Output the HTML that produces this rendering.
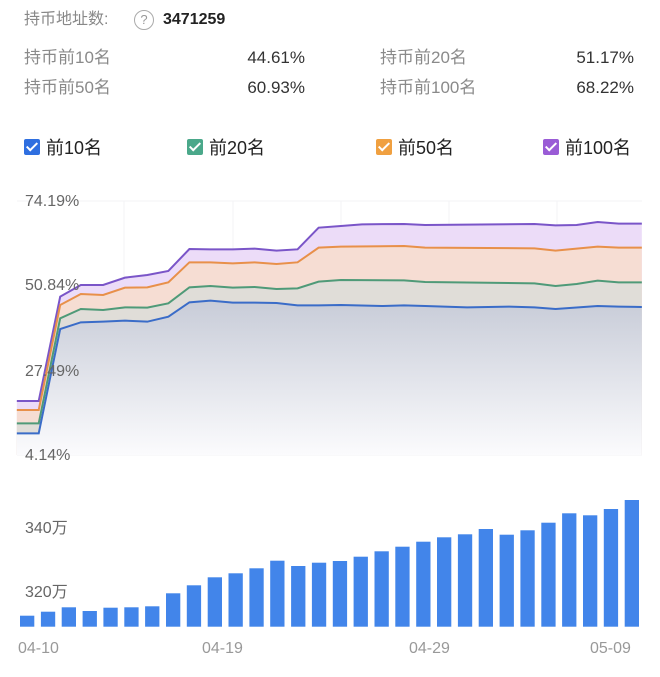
<!DOCTYPE html>
<html><head><meta charset="utf-8"><style>
body{margin:0;width:660px;height:677px;background:#fff;overflow:hidden;position:relative;font-family:"Liberation Sans","Noto Sans CJK SC",sans-serif;}
.t{position:absolute;white-space:nowrap;line-height:20px}
.g{color:#8a8a8a;font-size:17px}
.cb{position:absolute;width:16px;height:16px;border-radius:2px;top:139px}
.cb:after{content:"";position:absolute;left:5px;top:1px;width:4px;height:9px;border:solid #fff;border-width:0 2px 2px 0;transform:rotate(45deg)}
.lg{position:absolute;top:137px;font-size:18px;color:#222;line-height:22px}
</style></head><body>
<div class="t" style="left:24px;top:10px;font-size:16px;color:#888">持币地址数:</div>
<div class="t" style="left:134px;top:10px;width:18px;height:18px;border:1.5px solid #aaa;border-radius:50%;font-size:13px;color:#999;text-align:center;line-height:18px">?</div>
<div class="t" style="left:163px;top:10px;font-size:16px;font-weight:bold;color:#222">3471259</div>
<div class="t g" style="left:24px;top:48px">持币前10名</div>
<div class="t g" style="left:200px;top:48px;width:105px;text-align:right;color:#333">44.61%</div>
<div class="t g" style="left:380px;top:48px">持币前20名</div>
<div class="t g" style="left:530px;top:48px;width:104px;text-align:right;color:#333">51.17%</div>
<div class="t g" style="left:24px;top:78px">持币前50名</div>
<div class="t g" style="left:200px;top:78px;width:105px;text-align:right;color:#333">60.93%</div>
<div class="t g" style="left:380px;top:78px">持币前100名</div>
<div class="t g" style="left:530px;top:78px;width:104px;text-align:right;color:#333">68.22%</div>
<div class="cb" style="left:24px;background:#2f6fe0"></div><div class="lg" style="left:46px">前10名</div>
<div class="cb" style="left:187px;background:#4aa88a"></div><div class="lg" style="left:209px">前20名</div>
<div class="cb" style="left:376px;background:#f0a040"></div><div class="lg" style="left:398px">前50名</div>
<div class="cb" style="left:543px;background:#9a5cd6"></div><div class="lg" style="left:565px">前100名</div>

<svg width="660" height="290" style="position:absolute;left:0;top:180px">
<defs>
<linearGradient id="bg" x1="0" y1="0" x2="0" y2="1"><stop offset="0" stop-color="#c8ccd8"/><stop offset="1" stop-color="#fbfbfd"/></linearGradient>
</defs>
<g fill="none" stroke="#f3f3f5" stroke-width="1">
<line x1="17" y1="21" x2="642" y2="21"/><line x1="17" y1="275" x2="642" y2="275"/>
<line x1="124" y1="21" x2="124" y2="275"/><line x1="233" y1="21" x2="233" y2="275"/><line x1="341" y1="21" x2="341" y2="275"/><line x1="449" y1="21" x2="449" y2="275"/><line x1="557" y1="21" x2="557" y2="275"/>
</g>
<g transform="scale(0.42088,0.33333)">
<path fill="#ecdcf8" d="M40,663 92,663 143,350 192,315 245,315 297,293 350,285 400,273 450,207 500,208 553,208 605,206 657,212 707,208 757,143 810,138 860,133 960,132 1010,135 1270,132 1320,136 1370,135 1420,126 1470,131 1525,131 1525,825 40,825Z"/>
<path fill="#f6ddd3" d="M40,690 92,690 143,375 192,342 245,345 297,323 350,322 400,307 450,247 500,247 553,250 605,247 657,252 707,247 757,203 810,200 960,198 1010,203 1270,205 1320,212 1370,206 1420,200 1470,203 1525,203 1525,825 40,825Z"/>
<path fill="#e0ddd8" d="M40,730 92,730 143,415 192,387 245,390 297,382 350,383 400,370 450,322 500,318 553,323 605,321 657,327 707,325 757,305 810,300 960,301 1010,306 1270,310 1320,318 1370,312 1420,302 1470,307 1525,307 1525,825 40,825Z"/>
<path fill="url(#bg)" d="M40,760 92,760 143,447 192,427 245,425 297,422 350,425 400,410 450,367 500,362 553,368 605,368 657,369 707,376 757,376 810,375 910,378 960,376 1010,378 1110,382 1210,380 1270,382 1320,387 1420,378 1470,380 1525,381 1525,825 40,825Z"/>
<g fill="none" stroke-width="2">
<path vector-effect="non-scaling-stroke" stroke="#7a55c8" d="M40,663 92,663 143,350 192,315 245,315 297,293 350,285 400,273 450,207 500,208 553,208 605,206 657,212 707,208 757,143 810,138 860,133 960,132 1010,135 1270,132 1320,136 1370,135 1420,126 1470,131 1525,131"/>
<path vector-effect="non-scaling-stroke" stroke="#e8904a" d="M40,690 92,690 143,375 192,342 245,345 297,323 350,322 400,307 450,247 500,247 553,250 605,247 657,252 707,247 757,203 810,200 960,198 1010,203 1270,205 1320,212 1370,206 1420,200 1470,203 1525,203"/>
<path vector-effect="non-scaling-stroke" stroke="#4f9a78" d="M40,730 92,730 143,415 192,387 245,390 297,382 350,383 400,370 450,322 500,318 553,323 605,321 657,327 707,325 757,305 810,300 960,301 1010,306 1270,310 1320,318 1370,312 1420,302 1470,307 1525,307"/>
<path vector-effect="non-scaling-stroke" stroke="#3a6cc8" d="M40,760 92,760 143,447 192,427 245,425 297,422 350,425 400,410 450,367 500,362 553,368 605,368 657,369 707,376 757,376 810,375 910,378 960,376 1010,378 1110,382 1210,380 1270,382 1320,387 1420,378 1470,380 1525,381"/>
</g></g>
<g font-size="16" fill="#666" font-family="Liberation Sans,sans-serif">
<text x="25" y="26">74.19%</text><text x="25" y="110">50.84%</text><text x="25" y="196">27.49%</text><text x="25" y="280">4.14%</text>
</g>
</svg>

<svg width="660" height="207" style="position:absolute;left:0;top:470px">
<g fill="#4285ea" id="bars"></g>
<g font-size="16" fill="#666" font-family="Liberation Sans,'Noto Sans CJK SC',sans-serif">
<text x="25" y="63">340万</text><text x="25" y="127">320万</text>
<text x="18" y="183" fill="#999">04-10</text><text x="202" y="183" fill="#999">04-19</text><text x="409" y="183" fill="#999">04-29</text><text x="590" y="183" fill="#999">05-09</text>
</g>
</svg>
<script>
var t=[437,425,412,423,413,412,409,370,346,322,310,295,272,288,278,273,260,244,230,215,202,193,177,194,181,158,130,136,117,90];
var g=document.getElementById('bars'),s='';
t.forEach(function(v,i){var y=v/3,x=20+i*20.85;s+='<rect x="'+x.toFixed(1)+'" y="'+y.toFixed(1)+'" width="14.3" height="'+(156.7-y).toFixed(1)+'"/>';});
g.innerHTML=s;
</script>
</body></html>
